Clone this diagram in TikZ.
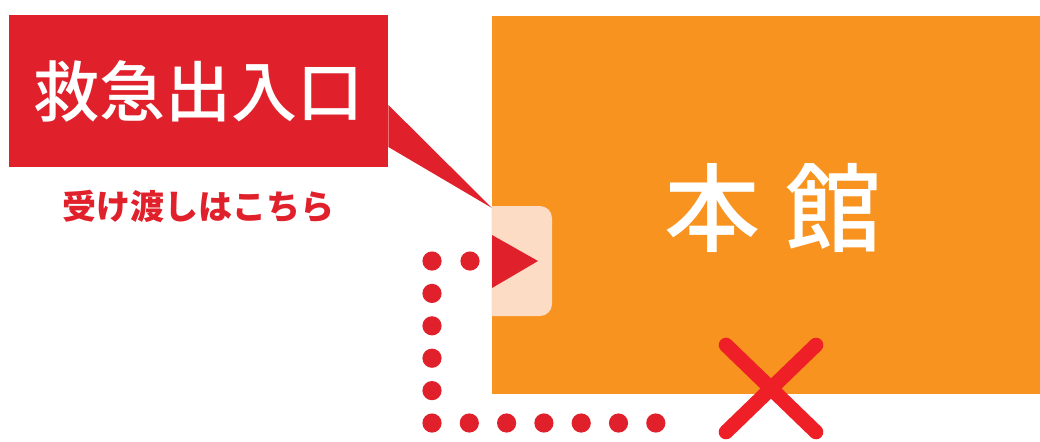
\documentclass[tikz,border=0pt]{standalone}
\usepackage{fontspec}
\usepackage{tikz}
\usetikzlibrary{positioning}
\IfFontExistsTF{Noto Sans CJK JP Medium}
	{\newfontfamily\jpfont{Noto Sans CJK JP Medium}}
	{\newfontfamily\jpfont{Noto Sans CJK JP}[AutoFakeBold=1.2]}
\newfontfamily\jpboldfont{Noto Sans CJK JP}
\definecolor{signred}{HTML}{E0202A}
\definecolor{crossred}{HTML}{EE1F27}
\definecolor{hallorange}{HTML}{F7931E}
\definecolor{doorpeach}{HTML}{FCDCC4}
\tikzstyle{routedot} = [circle, fill=signred, inner sep=0pt, minimum size=9.6pt]
\tikzstyle{cross} = [draw=crossred, line width=7.3pt, line cap=round]

\begin{document}
\begin{tikzpicture}[
		x=0.5pt, y=-0.5pt,
		sign/.style={
				rectangle,
				fill=signred,
				text=white,
				inner sep=0pt,
				minimum width=189.5pt,
				minimum height=76pt,
				font=\jpfont\fontsize{33pt}{33pt}\selectfont,
			},
		hall/.style={
				rectangle,
				fill=hallorange,
				inner sep=0pt,
				minimum width=274pt,
				minimum height=189pt,
			}
	]
	\useasboundingbox (0,0) rectangle (1040,441);

	% Main building
	\node[hall] (hall) at (766,205) {};
	\node[text=white, font=\jpfont\fontsize{48pt}{48pt}\selectfont] (hallname)
		at ([xshift=3.5pt, yshift=-1.5pt]hall.center) {本\hspace{13pt}館};

	% Entrance door
	\begin{scope}
		\clip (hall.north west) rectangle (1040,441);
		\node[fill=doorpeach, rounded corners=6pt, inner sep=0pt,
			minimum width=41pt, minimum height=55pt] (door) at (511,261) {};
	\end{scope}
	\fill[signred] (492,235) -- (538,261) -- (492,288) -- cycle;

	% Emergency entrance sign
	\node[sign] (sign) at (198.5,91) {救急出入口};
	\coordinate (tip) at (492,208);
	\fill[signred] ([yshift=-7pt]sign.east) -- (tip) -- ([yshift=-28pt]sign.east) -- cycle;
	\node[text=signred, font=\jpboldfont\bfseries\fontsize{17pt}{17pt}\selectfont] (handover)
		at (198,207) {受け渡しはこちら};

	% Route to the entrance
	\foreach \i in {0,...,5}
		\node[routedot] (v\i) at (432,261+32.4*\i) {};
	\foreach \i in {1,...,6}
		\node[routedot] (h\i) at (432+37.3*\i,423) {};
	\node[routedot] (t1) at (470,261) {};

	% No entry
	\coordinate (xa) at (726,345);
	\coordinate (xb) at (816,432);
	\coordinate (xc) at (816,345);
	\coordinate (xd) at (726,432);
	\draw[cross] (xa) -- (xb);
	\draw[cross] (xc) -- (xd);
\end{tikzpicture}
\end{document}
